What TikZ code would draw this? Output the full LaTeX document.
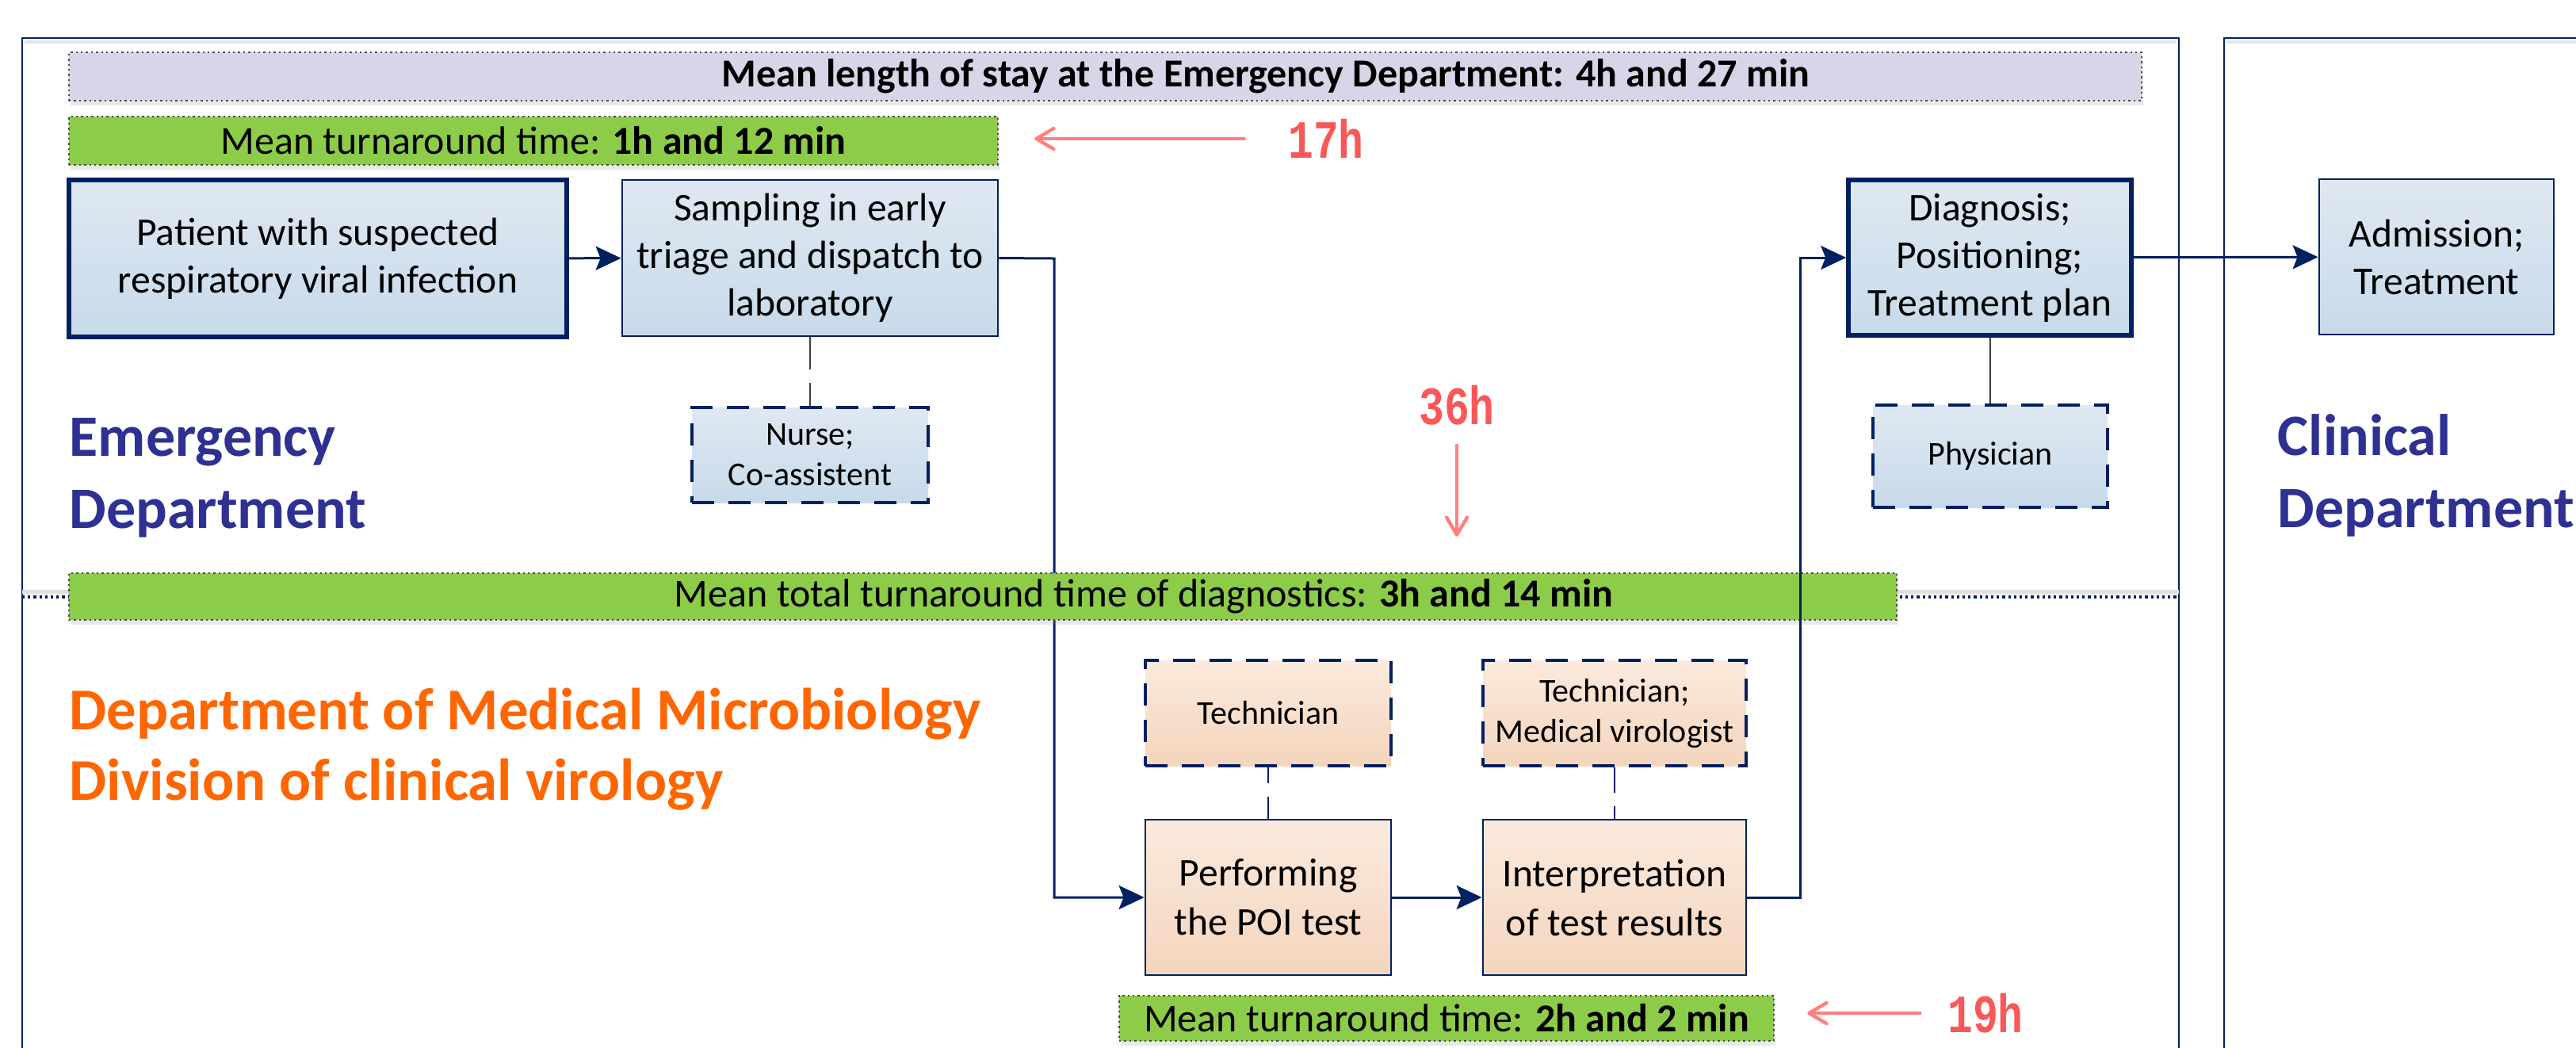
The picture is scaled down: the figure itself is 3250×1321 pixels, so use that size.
\documentclass[tikz,border=0pt]{standalone}
\usepackage{fontspec}
\setmainfont{Carlito}
\newfontfamily\hourfont[FakeStretch=0.78]{Liberation Mono}
\usetikzlibrary{arrows.meta}
\usetikzlibrary{shadows}

\definecolor{navy}{RGB}{0,32,96}
\definecolor{bluetop}{RGB}{223,232,242}
\definecolor{bluebot}{RGB}{199,218,234}
\definecolor{peachtop}{RGB}{251,234,221}
\definecolor{peachbot}{RGB}{244,213,189}
\definecolor{barGreen}{RGB}{141,204,72}
\definecolor{barGray}{RGB}{214,214,232}
\definecolor{edBlue}{RGB}{46,49,146}
\definecolor{microOrange}{RGB}{255,102,0}
\definecolor{delayRed}{RGB}{250,88,88}
\definecolor{delayPink}{RGB}{255,128,128}

\tikzset{
  procbox/.style={draw=navy, line width=0.7pt, top color=bluetop, bottom color=bluebot,
    align=center, inner sep=1pt, font=\fontsize{12.4}{15}\selectfont},
  keybox/.style={procbox, line width=1.4pt},
  rolebox/.style={procbox, line width=1.1pt, dash pattern=on 7pt off 4.5pt,
    font=\fontsize{10.5}{12.75}\selectfont},
  peach/.style={top color=peachtop, bottom color=peachbot},
  timebar/.style={draw=black!70, densely dotted, line width=0.6pt, fill=barGreen, inner sep=0pt,
    drop shadow={shadow xshift=0.6pt, shadow yshift=-1.4pt, opacity=0.18},
    font=\fontsize{12.5}{14}\selectfont},
  bartext/.style={inner sep=0pt, font=\fontsize{12.5}{14}\selectfont},
  flow/.style={draw=navy, line width=0.75pt, -{Stealth[length=8pt,width=7.5pt,inset=1.5pt]}},
  rolelink/.style={line width=0.5pt, dash pattern=on #1 off 4.25pt on 60pt off 0pt},
  delay/.style={draw=delayPink, line width=1.1pt, line cap=round,
    -{Straight Barb[length=5.5pt,width=6.5pt,round]}},
  hours/.style={inner sep=0pt, text=delayRed, font=\hourfont\bfseries\fontsize{17}{17}\selectfont},
  deptlabel/.style={inner sep=0pt, align=left, anchor=north west,
    font=\fontsize{18.5}{22.75}\selectfont\bfseries},
  frame/.style={draw=navy, line width=0.7pt},
}

\begin{document}
\begin{tikzpicture}[x=0.25pt,y=0.25pt,yscale=-1,xscale=1]
\useasboundingbox (0,0) rectangle (3250,1321);

%Shape: frames of the departments
\draw[black!10, line width=1.2pt] (31,53) -- (2746,53);
\draw[frame] (28,1340) -- (28,48) -- (2749,48) -- (2749,1340);
\draw[black!10, line width=1.2pt] (2809,53) -- (3260,53);
\draw[frame] (2806,1340) -- (2806,48) -- (3260,48);

%Straight Lines: border between the departments
\coordinate (sepL) at (28,753);
\coordinate (sepR) at (2749,753);
\draw[black!12, line width=1.2pt] ([yshift=-1.6pt]sepL) -- ([yshift=-1.6pt]sepR);
\draw[navy, densely dotted, line width=0.8pt] (sepL) -- (sepR);

% Text Node: department names
\node[deptlabel, text=edBlue] (edlabel) at (87,527) {Emergency\\Department};
\node[deptlabel, text=edBlue] (cdlabel) at (2873,522) {Clinical\\Department};
\node[deptlabel, text=microOrange, font=\fontsize{18.7}{22.25}\selectfont\bfseries] (mmlabel) at (87,867) {Department of Medical Microbiology\\Division of clinical virology};

%Shape: process boxes
\node[keybox, minimum width=157pt, minimum height=49.5pt] (patient) at (401,326) {Patient with suspected\\respiratory viral infection};
\node[procbox, minimum width=118.5pt, minimum height=49.25pt] (sampling) at (1022,325.5) {Sampling in early\\triage and dispatch to\\laboratory};
\node[keybox, minimum width=89.25pt, minimum height=49pt] (diag) at (2510.5,325) {Diagnosis;\\Positioning;\\Treatment plan};
\node[procbox, minimum width=74pt, minimum height=49pt] (admission) at (3074,324) {Admission;\\Treatment};
\node[procbox, peach, minimum width=77.5pt, minimum height=49pt, font=\fontsize{12.4}{15.5}\selectfont] (poi) at (1600,1132) {Performing\\the POI test};
\node[procbox, peach, minimum width=83pt, minimum height=49pt, font=\fontsize{12.4}{15.5}\selectfont] (interp) at (2037,1132) {Interpretation\\of test results};

%Shape: staff boxes
\node[rolebox, minimum width=74.5pt, minimum height=30pt] (nurse) at (1022,574) {Nurse;\\Co-assistent};
\node[rolebox, minimum width=74pt, minimum height=32.25pt] (physician) at (2511,575.5) {Physician};
\node[rolebox, peach, minimum width=77.5pt, minimum height=33.25pt] (tech) at (1600,899.5) {Technician};
\node[rolebox, peach, minimum width=83pt, minimum height=33.25pt] (techvir) at (2037,899.5) {Technician;\\Medical virologist};

%Straight Lines: sample to the lab (runs behind the bar)
\coordinate (toLab) at (1330,326);
\draw[flow] (sampling.east) -- (toLab) |- (poi.west);

%Shape: time bars
\node[timebar, fill=barGray, minimum width=653.75pt, minimum height=15.25pt] (edstay) at (1394.5,96.5) {};
\node[bartext, font=\fontsize{12.5}{14}\selectfont\bfseries] (edstaytxt) at (1597,96.5) {Mean length of stay at the Emergency Department: 4h and 27 min};
\node[timebar, minimum width=293pt, minimum height=15.25pt] (tat1) at (673,177.5) {Mean turnaround time: \textbf{1h and 12 min}};
\node[timebar, minimum width=576.5pt, minimum height=14.75pt] (tattotal) at (1240,752.5) {};
\node[bartext] (tattotaltxt) at (1443,752.5) {Mean total turnaround time of diagnostics: \textbf{3h and 14 min}};
\node[timebar, minimum width=206.5pt, minimum height=14.25pt] (tat2) at (1825,1284.5) {Mean turnaround time: \textbf{2h and 2 min}};

%Straight Lines: process flow
\draw[flow] (patient) -- (sampling);
\draw[flow] (poi) -- (interp);
\coordinate (toWard) at (2271,1132);
\draw[flow] (interp.east) -- (toWard) |- (diag.west);
\draw[flow] (diag) -- (admission);

%Straight Lines: staff links
\draw[rolelink=10.25pt, black!75] (sampling) -- (nurse);
\draw[black!75, line width=0.5pt] (diag) -- (physician);
\draw[rolelink=5pt, navy] (tech) -- (poi);
\draw[rolelink=8pt, navy] (techvir) -- (interp);

% Text Node: delays
\node[hours] (h17) at (1673,175) {17h};
\node[hours] (h36) at (1838,511) {36h};
\node[hours] (h19) at (2505,1278) {19h};
\draw[delay, shorten <=13.75pt, shorten >=11.25pt] (h17.west) -- (h17.west -| tat1.east);
\draw[delay, shorten <=6.25pt, shorten >=11.25pt] (h36.south) -- (h36.south |- tattotal.north);
\draw[delay, shorten <=8.5pt, shorten >=10.25pt] (h19.west) -- (h19.west -| tat2.east);

\end{tikzpicture}
\end{document}
